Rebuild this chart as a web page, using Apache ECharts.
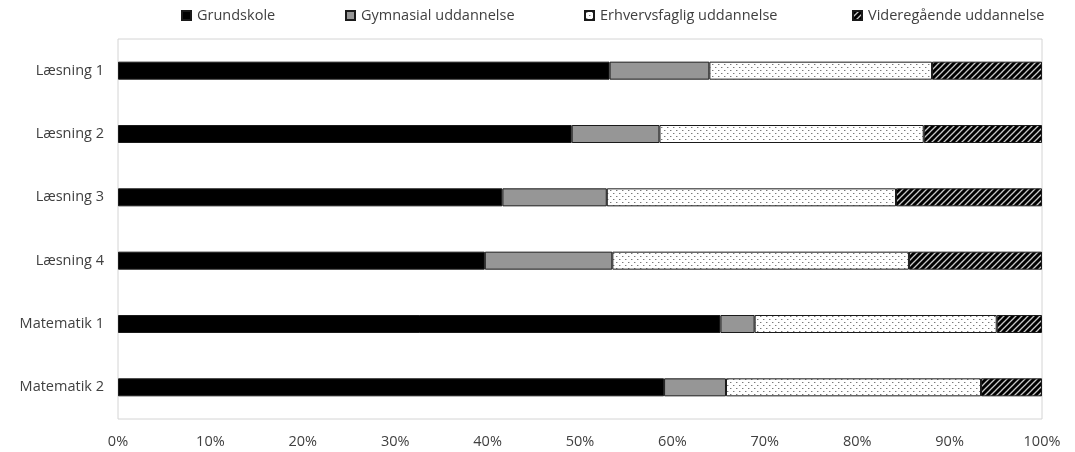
<!DOCTYPE html>
<html>
<head>
<meta charset="utf-8">
<script src="https://cdn.jsdelivr.net/npm/echarts@6/dist/echarts.min.js"></script>
<style>
html,body{margin:0;padding:0;background:#fff;}
#chart{width:1075px;height:452px;}
</style>
</head>
<body>
<div id="chart"></div>
<script>
const categories = ['Læsning 1','Læsning 2','Læsning 3','Læsning 4','Matematik 1','Matematik 2'];
const seriesNames = ['Grundskole','Gymnasial uddannelse','Erhvervsfaglig uddannelse','Videregående uddannelse'];
const grundskole = [53.2, 49.1, 41.6, 39.7, 65.2, 59.1];
const gymnasial = [10.8, 9.5, 11.3, 13.8, 3.7, 6.7];
const erhvervsfaglig = [24.1, 28.6, 31.3, 32.1, 26.2, 27.6];
const videregaaende = [11.9, 12.8, 15.8, 14.4, 4.9, 6.6];
const xTicks = [0,10,20,30,40,50,60,70,80,90,100];

function dotPattern(){
  const c = document.createElement('canvas');
  c.width = 6; c.height = 6;
  const g = c.getContext('2d');
  g.fillStyle = '#ffffff'; g.fillRect(0,0,6,6);
  g.fillStyle = '#7a7a7a';
  g.fillRect(1,1,1,1);
  g.fillRect(4,4,1,1);
  g.fillStyle = '#c8c8c8';
  g.fillRect(2,1,1,1);
  g.fillRect(5,4,1,1);
  return c;
}
function hatchPattern(){
  const c = document.createElement('canvas');
  c.width = 6; c.height = 6;
  const g = c.getContext('2d');
  g.fillStyle = '#000000'; g.fillRect(0,0,6,6);
  g.strokeStyle = '#c8c8c8'; g.lineWidth = 1.3;
  g.beginPath();
  g.moveTo(-1,7); g.lineTo(7,-1);
  g.moveTo(-4,4); g.lineTo(4,-4);
  g.moveTo(2,10); g.lineTo(10,2);
  g.stroke();
  return c;
}

const fills = [
  '#000000',
  '#969696',
  {image: dotPattern(), repeat: 'repeat'},
  {image: hatchPattern(), repeat: 'repeat'}
];
const dataArr = [grundskole, gymnasial, erhvervsfaglig, videregaaende];
const legendLeft = [181, 345, 584, 852];

const chart = echarts.init(document.getElementById('chart'), null, {renderer:'canvas'});
const font = '"Open Sans", "Noto Sans", sans-serif';
const fs = 14.5;

const option = {
  animation: false,
  backgroundColor: '#ffffff',
  textStyle: {fontFamily: font},
  legend: seriesNames.map((n,i)=>({
    data: [n],
    left: legendLeft[i],
    top: 8,
    icon: 'rect',
    itemWidth: 9,
    itemHeight: 9,
    itemGap: 5,
    padding: 0,
    selectedMode: false,
    textStyle: {fontFamily: font, fontSize: fs, color: '#404040', padding: [0,0,0,1]}
  })),
  grid: {
    left: 118, right: 33, top: 39, bottom: 33,
    show: true, borderColor: '#d4d4d4', borderWidth: 1, backgroundColor: 'transparent'
  },
  xAxis: {
    type: 'value', min: 0, max: 100, interval: 10,
    axisLine: {show: false}, axisTick: {show: false}, splitLine: {show: false},
    axisLabel: {formatter: v => xTicks.includes(v) ? v + '%' : '', fontFamily: font, fontSize: fs, color: '#404040', margin: 15}
  },
  yAxis: {
    type: 'category', data: categories, inverse: true,
    axisLine: {show: false}, axisTick: {show: false}, splitLine: {show: false},
    axisLabel: {fontFamily: font, fontSize: fs, color: '#404040', margin: 14}
  },
  series: seriesNames.map((n,i)=>({
    name: n, type: 'bar', stack: 'total', barWidth: 18,
    data: dataArr[i],
    itemStyle: {color: fills[i], borderColor: '#1a1a1a', borderWidth: 1}
  }))
};
chart.setOption(option);
</script>
</body>
</html>
